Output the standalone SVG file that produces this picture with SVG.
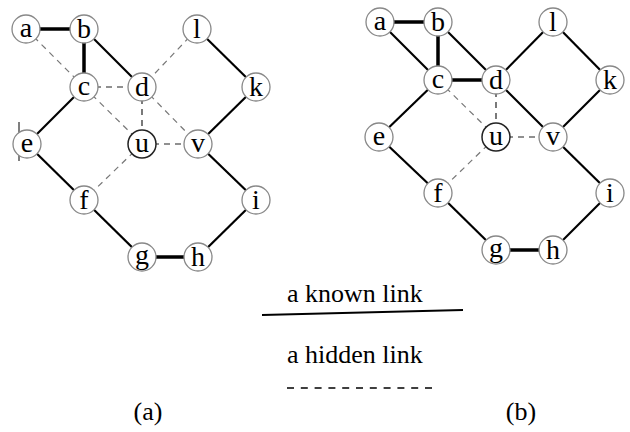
<svg xmlns="http://www.w3.org/2000/svg" width="630" height="432" viewBox="0 0 630 432">
<style>
.n circle{fill:#fff;stroke:#888;stroke-width:1.3}
.n.u circle{stroke:#222;stroke-width:1.5}
.k{stroke:#000;stroke-width:2.2;fill:none}
.t{stroke:#000;stroke-width:3.5;fill:none}
.h{stroke:#777;stroke-width:1.2;stroke-dasharray:6,5;fill:none}
.hd{stroke:#222;stroke-width:1.2;stroke-dasharray:6,5;fill:none}
</style>
<g id="connectors-a">
<line class="t" x1="26" y1="29" x2="84" y2="29"/>
<line class="t" x1="84" y1="29" x2="84" y2="87"/>
<line class="k" x1="84" y1="29" x2="142" y2="87"/>
<line class="k" x1="197" y1="29" x2="256" y2="87"/>
<line class="k" x1="256" y1="87" x2="198" y2="144"/>
<line class="k" x1="198" y1="144" x2="256" y2="200"/>
<line class="k" x1="256" y1="200" x2="198" y2="257"/>
<line class="t" x1="198" y1="257" x2="142" y2="257"/>
<line class="k" x1="142" y1="257" x2="84" y2="200"/>
<line class="k" x1="84" y1="200" x2="27" y2="144"/>
<line class="k" x1="27" y1="144" x2="84" y2="87"/>
<line class="h" x1="26" y1="29" x2="84" y2="87"/>
<line class="h" x1="197" y1="29" x2="142" y2="87"/>
<line class="hd" x1="84" y1="87" x2="142" y2="87"/>
<line class="h" x1="84" y1="87" x2="142" y2="144"/>
<line class="hd" x1="142" y1="87" x2="142" y2="144"/>
<line class="h" x1="142" y1="87" x2="198" y2="144"/>
<line class="hd" x1="142" y1="144" x2="198" y2="144"/>
<line class="h" x1="142" y1="144" x2="84" y2="200"/>
<line stroke="#000" stroke-width="1" x1="19" y1="122" x2="19" y2="161"/>
</g>
<g id="connectors-b">
<line class="t" x1="380" y1="22" x2="438" y2="22"/>
<line class="k" x1="380" y1="22" x2="438" y2="80"/>
<line class="t" x1="438" y1="22" x2="438" y2="80"/>
<line class="k" x1="438" y1="22" x2="496" y2="80"/>
<line class="t" x1="438" y1="80" x2="496" y2="80"/>
<line class="k" x1="496" y1="80" x2="553" y2="22"/>
<line class="k" x1="553" y1="22" x2="610" y2="80"/>
<line class="k" x1="610" y1="80" x2="553" y2="137"/>
<line class="k" x1="496" y1="80" x2="553" y2="137"/>
<line class="k" x1="553" y1="137" x2="610" y2="193"/>
<line class="k" x1="610" y1="193" x2="553" y2="250"/>
<line class="t" x1="553" y1="250" x2="496" y2="250"/>
<line class="k" x1="496" y1="250" x2="438" y2="193"/>
<line class="k" x1="438" y1="193" x2="379" y2="137"/>
<line class="k" x1="379" y1="137" x2="438" y2="80"/>
<line class="h" x1="438" y1="80" x2="496" y2="137"/>
<line class="hd" x1="496" y1="80" x2="496" y2="137"/>
<line class="hd" x1="496" y1="137" x2="553" y2="137"/>
<line class="h" x1="496" y1="137" x2="438" y2="193"/>
</g>
<g id="legend" font-family="Liberation Serif, serif" font-size="26" fill="#000">
<text x="287" y="302">a known link</text>
<line stroke="#000" stroke-width="1.8" x1="262" y1="315" x2="463" y2="310"/>
<text x="287" y="363">a hidden link</text>
<line stroke="#000" stroke-width="1.5" stroke-dasharray="7,6.8" x1="287" y1="388" x2="436" y2="388"/>
<text x="148" y="420" text-anchor="middle">(a)</text>
<text x="521" y="420" text-anchor="middle">(b)</text>
</g>
<g font-family="Liberation Serif, serif" font-size="28" text-anchor="middle" fill="#000">
<g id="a-a" class="n"><circle cx="26" cy="29" r="14"/><text x="26" y="37">a</text></g>
<g id="a-b" class="n"><circle cx="84" cy="29" r="14"/><text x="84" y="38">b</text></g>
<g id="a-l" class="n"><circle cx="197" cy="29" r="14"/><text x="197" y="38">l</text></g>
<g id="a-c" class="n"><circle cx="84" cy="87" r="14"/><text x="84" y="95">c</text></g>
<g id="a-d" class="n"><circle cx="142" cy="87" r="14"/><text x="142" y="96">d</text></g>
<g id="a-k" class="n"><circle cx="256" cy="87" r="14"/><text x="256" y="96">k</text></g>
<g id="a-e" class="n"><circle cx="27" cy="144" r="14"/><text x="27" y="152">e</text></g>
<g id="a-u" class="n u"><circle cx="142" cy="144" r="14"/><text x="142" y="152">u</text></g>
<g id="a-v" class="n"><circle cx="198" cy="144" r="14"/><text x="198" y="152">v</text></g>
<g id="a-f" class="n"><circle cx="84" cy="200" r="14"/><text x="84" y="209">f</text></g>
<g id="a-i" class="n"><circle cx="256" cy="200" r="14"/><text x="256" y="209">i</text></g>
<g id="a-g" class="n"><circle cx="142" cy="257" r="14"/><text x="142" y="264">g</text></g>
<g id="a-h" class="n"><circle cx="198" cy="257" r="14"/><text x="198" y="266">h</text></g>
<g id="b-a" class="n"><circle cx="380" cy="22" r="14"/><text x="380" y="30">a</text></g>
<g id="b-b" class="n"><circle cx="438" cy="22" r="14"/><text x="438" y="31">b</text></g>
<g id="b-l" class="n"><circle cx="553" cy="22" r="14"/><text x="553" y="31">l</text></g>
<g id="b-c" class="n"><circle cx="438" cy="80" r="14"/><text x="438" y="88">c</text></g>
<g id="b-d" class="n"><circle cx="496" cy="80" r="14"/><text x="496" y="89">d</text></g>
<g id="b-k" class="n"><circle cx="610" cy="80" r="14"/><text x="610" y="89">k</text></g>
<g id="b-e" class="n"><circle cx="379" cy="137" r="14"/><text x="379" y="145">e</text></g>
<g id="b-u" class="n u"><circle cx="496" cy="137" r="14"/><text x="496" y="145">u</text></g>
<g id="b-v" class="n"><circle cx="553" cy="137" r="14"/><text x="553" y="145">v</text></g>
<g id="b-f" class="n"><circle cx="438" cy="193" r="14"/><text x="438" y="202">f</text></g>
<g id="b-i" class="n"><circle cx="610" cy="193" r="14"/><text x="610" y="202">i</text></g>
<g id="b-g" class="n"><circle cx="496" cy="250" r="14"/><text x="496" y="257">g</text></g>
<g id="b-h" class="n"><circle cx="553" cy="250" r="14"/><text x="553" y="259">h</text></g>
</g>
</svg>
